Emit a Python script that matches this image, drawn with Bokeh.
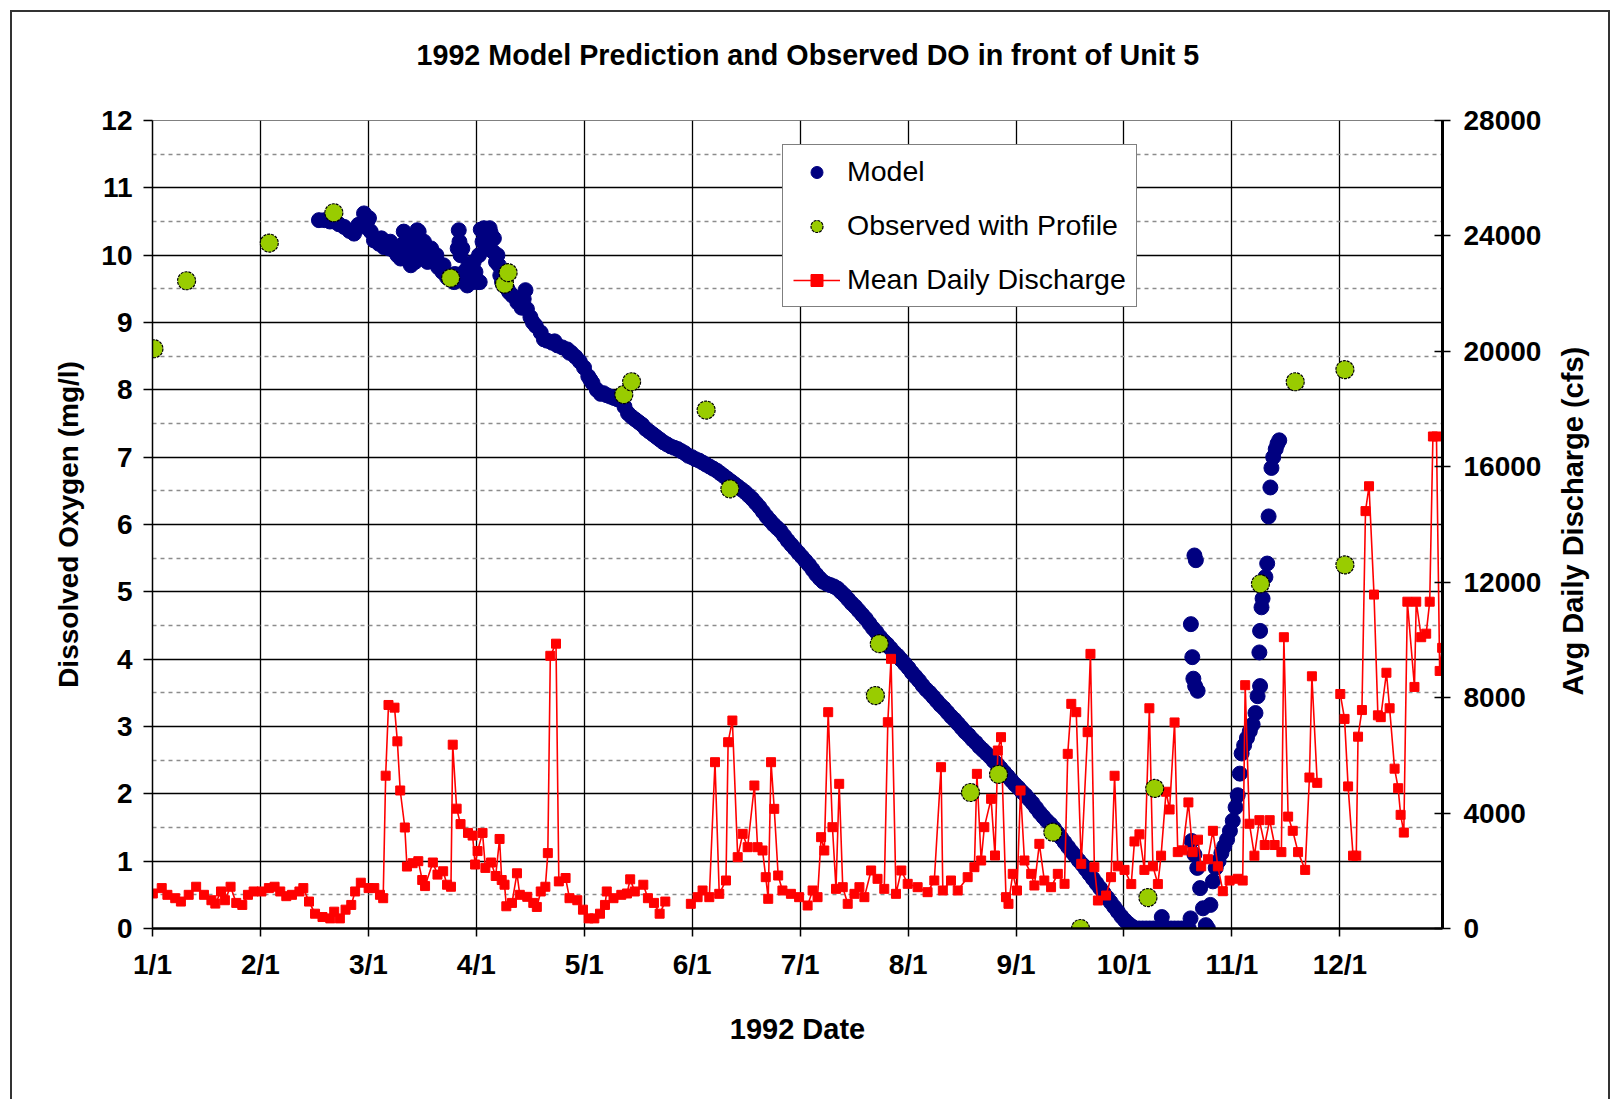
import math
import numpy as np
from bokeh.plotting import figure
from bokeh.models import (Range1d, LinearAxis, FixedTicker, Legend, LegendItem, Title)
from bokeh.embed import file_html
from bokeh.resources import INLINE

FONT = "Liberation Sans"
NAN = float("nan")

# ---------------- data (x = day of 1992 counted from 1/1) ----------------
month_labels = ["1/1", "2/1", "3/1", "4/1", "5/1", "6/1", "7/1", "8/1", "9/1", "10/1", "11/1", "12/1"]
do_ticks = list(range(0, 13))
cfs_ticks = list(range(0, 28001, 4000))

# model: Feb - May (noisy band)
model_day_spring = [
    46.9, 48.5, 50.0, 51.1, 52.5, 54.0, 55.5, 56.8, 58.0, 59.6, 60.5, 61.5, 62.4, 63.8, 65.2, 66.6,
    68.0, 69.0, 69.9, 70.8, 71.3, 71.8, 72.8, 73.7, 74.6, 75.5, 76.2, 77.0, 78.2, 79.3, 80.5, 81.7,
    83.0, 84.0, 85.2, 86.0, 86.3, 86.8, 87.8, 88.7, 89.6, 90.5, 91.5, 92.0, 92.5, 93.4, 94.5, 95.3,
    96.2, 97.2, 98.0, 99.0, 100.0, 101.4, 102.8, 104.0, 105.1, 105.5, 106.5, 108.0, 109.4, 111.2,
    112.6, 114.1, 115.5, 116.9, 118.0, 119.2, 120.4, 121.6, 122.8, 124.0, 125.2, 126.3, 128.0, 130.0,
    132.0, 134.0, 136.0, 138.0, 140.0, 142.0, 144.0, 146.0, 148.0, 150.0,
    60.0, 61.0, 64.5, 67.0, 70.3, 71.0, 72.2, 73.0, 74.0, 75.0, 76.5, 77.5, 78.5, 80.0, 82.0, 85.0,
    86.5, 87.3, 88.0, 89.0, 90.0, 91.0, 92.2, 93.0, 94.0, 95.0, 96.0, 96.8, 97.6, 98.5, 99.5, 100.5,
    103.4, 104.6, 107.2, 110.3, 113.3, 117.5, 123.4, 127.1, 129.0, 131.0, 133.0, 135.0, 137.0,
    139.0, 141.0, 143.0, 145.0, 147.0, 149.0,
]
model_do_spring = [
    10.52, 10.52, 10.50, 10.50, 10.46, 10.42, 10.36, 10.32, 10.45, 10.62, 10.50, 10.35, 10.22, 10.17, 10.12, 10.10,
    10.07, 10.00, 9.95, 10.35, 10.20, 10.05, 9.85, 10.10, 10.37, 10.20, 10.00, 10.05, 9.95, 9.90, 9.82, 9.75,
    9.67, 9.65, 9.72, 10.10, 10.37, 10.00, 9.75, 9.55, 9.70, 9.90, 9.60, 10.00, 10.38, 10.40, 10.35, 10.33,
    10.25, 10.00, 9.70, 9.55, 9.50, 9.40, 9.30, 9.22, 9.48, 9.20, 9.08, 8.95, 8.85, 8.73,
    8.70, 8.66, 8.63, 8.60, 8.55, 8.49, 8.42, 8.33, 8.20, 8.10, 8.00, 7.94, 7.92, 7.88,
    7.84, 7.65, 7.56, 7.48, 7.38, 7.30, 7.22, 7.16, 7.12, 7.06,
    10.42, 10.55, 10.25, 10.20, 10.15, 9.95, 10.25, 10.20, 9.90, 10.35, 10.20, 9.90, 10.10, 10.00, 9.85, 9.60,
    10.20, 10.10, 9.60, 9.85, 9.60, 9.75, 9.60, 10.20, 10.10, 10.40, 10.05, 9.90, 9.85, 9.60, 9.62, 9.45,
    9.35, 9.35, 9.00, 8.75, 8.72, 8.55, 8.15, 7.95, 7.90, 7.86, 7.75, 7.60, 7.52,
    7.42, 7.34, 7.26, 7.19, 7.14, 7.09,
]
# model: June - October decline
model_day_summer = list(range(151, 293))
model_do_summer = [
    7.02, 7.00, 6.97, 6.95, 6.92, 6.89, 6.86, 6.83, 6.80, 6.76, 6.72, 6.68, 6.64, 6.60, 6.56, 6.52,
    6.48, 6.43, 6.38, 6.32, 6.26, 6.19, 6.12, 6.06, 6.00, 5.95, 5.90, 5.83, 5.76, 5.70, 5.64, 5.58,
    5.52, 5.46, 5.40, 5.33, 5.26, 5.20, 5.15, 5.12, 5.10, 5.08, 5.05, 5.00, 4.95, 4.89, 4.83, 4.78,
    4.72, 4.66, 4.60, 4.53, 4.46, 4.40, 4.33, 4.27, 4.22, 4.16, 4.10, 4.05, 3.99, 3.93, 3.87, 3.80,
    3.74, 3.68, 3.61, 3.55, 3.50, 3.44, 3.38, 3.32, 3.27, 3.21, 3.15, 3.10, 3.04, 2.98, 2.92, 2.87,
    2.81, 2.76, 2.70, 2.65, 2.60, 2.55, 2.49, 2.44, 2.38, 2.32, 2.26, 2.20, 2.14, 2.09, 2.03, 1.98,
    1.92, 1.86, 1.79, 1.72, 1.66, 1.60, 1.55, 1.49, 1.42, 1.35, 1.28, 1.21, 1.14, 1.08, 1.01, 0.95,
    0.88, 0.81, 0.74, 0.67, 0.60, 0.53, 0.46, 0.39, 0.32, 0.25, 0.18, 0.12, 0.07, 0.03, 0.00, 0.00,
    0.00, 0.00, 0.00, 0.00, 0.00, 0.00, 0.00, 0.00, 0.00, 0.00, 0.00, 0.00, 0.00, 0.00,
]
# model: late October / November (isolated points, dip and recovery)
model_day_fall = [
    284.4, 292.5, 292.6, 293.0, 293.3, 293.8, 294.5, 293.6, 294.0,
    292.8, 293.6, 294.4, 295.2, 296.0, 296.8, 297.4, 298.1, 298.8, 299.6, 300.4, 301.2, 302.0, 302.8,
    303.6, 304.4, 305.2, 305.8, 306.4, 306.9, 307.6, 308.4, 309.2, 310.0, 310.8, 311.4, 312.1,
    311.9, 312.1, 312.5, 312.8, 313.6, 314.1, 314.5, 315.0, 315.3, 315.8, 316.5, 317.0, 317.5,
]
model_do_fall = [
    0.17, 0.15, 4.52, 4.03, 3.71, 3.60, 3.53, 5.54, 5.47,
    1.30, 1.10, 0.90, 0.60, 0.30, 0.05, 0.0, 0.35, 0.70, 0.90, 1.00, 1.12, 1.22, 1.32,
    1.45, 1.60, 1.80, 1.98, 2.30, 2.60, 2.72, 2.83, 2.93, 3.03, 3.20, 3.45, 3.60,
    4.10, 4.42, 4.77, 4.90, 5.22, 5.42, 6.12, 6.55, 6.84, 7.00, 7.12, 7.20, 7.25,
]

obs_day = [0.4, 9.6, 32.9, 51.1, 84.0, 99.2, 100.2, 132.8, 135.0, 156.0, 162.7, 203.7, 204.8,
           230.5, 238.4, 253.7, 261.5, 280.5, 282.4, 312.2, 322.0, 336.0, 336.0]
obs_do = [8.61, 9.62, 10.18, 10.63, 9.66, 9.57, 9.74, 7.93, 8.12, 7.70, 6.53, 3.46, 4.23,
          2.02, 2.29, 1.43, 0.0, 0.46, 2.08, 5.12, 8.12, 5.40, 8.30]

q_day = [
    0.1, 2.6, 4.2, 6.4, 8.0, 10.2, 12.3, 14.5, 16.6, 17.7, 19.3, 20.4, 22.0, 23.6, 25.3, 26.9, 28.5,
    30.7, 32.8, 34.4, 36.0, 37.7, 39.3, 41.4, 42.5, 44.1, 45.8, 47.9, 50.1, 51.2, 52.8, 54.4, 56.0,
    57.1, 58.7, 60.9, 62.5, 64.1, 65.0, 65.7, 66.5, 68.2, 69.0, 69.8, 71.1, 71.7, 73.3, 74.9, 76.0,
    76.8, 79.0, 80.3, 81.9, 83.0, 84.1, 84.6, 85.7, 86.8, 88.9, 90.2, 90.9, 91.6, 93.0, 93.8, 95.4,
    96.7, 97.8, 98.4, 99.2, 99.7, 101.3, 102.7, 103.5, 105.6, 107.3, 108.3, 109.4, 110.7, 111.4,
    112.1, 113.7, 114.5, 116.4, 117.5, 119.7, 121.3, 122.9, 124.5, 126.1, 127.5, 128.0, 129.9,
    132.1, 133.7, 134.6, 135.9, 138.3, 139.6, 141.3, 142.9, 144.5,
    NAN,
    151.7, 153.6, 155.0, 156.9, 158.5, 159.7, 161.6, 162.2, 163.4, 164.9, 166.3, 167.7, 169.6,
    170.5, 171.9, 172.8, 173.5, 174.3, 175.2, 176.3, 177.5, 179.9, 182.2, 184.6, 186.0, 187.4,
    188.4, 189.3, 190.4, 191.6, 192.6, 193.5, 194.5, 195.9, 197.8, 199.2, 200.6, 202.5, 204.3,
    206.2, 207.2, 208.1, 209.5, 211.0, 212.8, 215.6, 218.4, 220.3, 222.2, 222.7, 225.0, 226.9,
    229.7, 231.6, 232.3, 233.5, 234.4, 236.3, 237.4, 238.2, 239.1, 240.5, 241.2, 242.4, 243.6,
    244.6, 245.7, 247.6, 248.5, 249.9, 251.3, 253.2, 255.1, 257.0, 257.9, 258.9, 260.3, 261.7,
    263.5, 264.3, 265.4, 266.4, 268.7, 270.1, 271.1, 272.0, 273.9, 275.8, 276.7, 278.1, 279.5,
    280.9, 281.9, 283.3, 284.2, 285.6, 286.6, 288.0, 288.9, 290.3, 291.9, 293.1, 294.6, 295.5,
    297.4, 298.8, 300.2, 301.6, 303.5, 305.8, 307.2, 307.9, 309.1, 310.5, 311.9, 313.4, 314.8,
    316.2, 318.1, 318.8, 320.0, 321.3, 322.8, 324.8, 326.0, 326.7, 328.2,
    NAN,
    334.7, 335.9, 336.9, 338.3, 339.2, 339.7, 340.8, 341.8, 342.8, 344.2, 345.3, 346.1, 347.7,
    348.6, 350.0, 351.0, 351.7, 352.6, 353.6, 355.6, 356.1, 357.5, 358.9, 359.9, 360.8, 361.8,
    362.7, 363.4,
]
q_cfs = [
    1213, 1400, 1167, 1050, 933, 1167, 1447, 1167, 980, 863, 1283, 980, 1447, 887, 817, 1167, 1283,
    1283, 1400, 1447, 1283, 1120, 1167, 1283, 1400, 933, 513, 397, 350, 583, 350, 653, 817,
    1283, 1587, 1400, 1400, 1167, 1050, 5296, 7746, 7653, 6486, 4783, 3500, 2147, 2263, 2333, 1680,
    1470, 2287, 1867, 1983, 1517, 1447, 6370, 4153, 3617, 3313, 3220, 2217, 2683, 3313, 2100, 2287,
    1820, 3103, 1680, 1517, 770, 887, 1913, 1167, 1097, 887, 747, 1283, 1447, 2613,
    9450, 9870, 1633, 1750, 1050, 980, 653, 350, 350, 513, 817, 1283, 1050,
    1167, 1213, 1703, 1283, 1517, 1050, 887, 513, 933,
    NAN,
    855, 1086, 1317, 1086, 5763, 1201, 1663, 6456, 7207, 2472, 3280, 2818, 4955,
    2818, 2703, 1779, 1028, 5763, 4146, 1836, 1317, 1201, 1086, 797, 1317, 1086,
    3165, 2703, 7496, 3511, 1374, 5013, 1432, 855, 1201, 1432, 1086, 2010, 1721,
    1374, 7149, 9344, 1201, 2010, 1548, 1432, 1259, 1663, 5590, 1317, 1663, 1317,
    1779, 2125, 5359, 2356, 3511, 4493, 2530, 6168, 6630, 1086, 855, 1894, 1317,
    4782, 2356, 1894, 1490, 2934, 1663, 1432, 1894, 1548, 6052, 7785, 7496, 2241,
    6803, 9517, 2125, 970, 1143, 1779, 5293, 2154, 2031, 1539, 3016, 3262, 2031,
    7632, 2154, 1539, 2524, 4739, 4124, 7140, 2647, 2708, 4370, 2647, 3078, 2154,
    2400, 3385, 2154, 1293, 1662, 1723, 1662, 8432, 3631, 2524, 3754, 2893, 3754,
    2893, 2647, 10094, 3877, 3385, 2647, 2031, 5232, 8740, 5047,
    NAN,
    8125, 7263, 4924, 2524, 2524, 6647, 7570, 14464, 15326, 11571, 7386, 7324, 8863,
    7632, 5539, 4862, 3939, 3324, 11325, 8371, 11325, 10094, 10217, 11325, 17050, 17050,
    8925, 9725,
]

model_day = model_day_spring + model_day_summer + model_day_fall
model_do = model_do_spring + model_do_summer + model_do_fall

# ---------------- figure ----------------
month_pos = [i * 365.0 / 12.0 for i in range(12)]
RIGHT_TITLE = "Avg Daily Discharge (cfs)"
RIGHT_TITLE_START = 8075   # where the bottom-to-top right-axis title begins (cfs scale)

p = figure(width=1600, height=1089, output_backend="svg", toolbar_location=None,
           x_range=Range1d(0, 363.5), y_range=Range1d(0, 12),
           min_border_left=140, min_border_right=170, min_border_top=108, min_border_bottom=173,
           background_fill_color="white", border_fill_color="white")
p.margin = (10, 0, 0, 10)
p.extra_y_ranges = {"cfs": Range1d(0, 28000)}
p.outline_line_color = "#808080"
p.outline_line_width = 1
p.styles = {"border-left": "2px solid #333333", "border-top": "2px solid #333333",
            "border-right": "2px solid #333333"}

# spacer (closest to the frame) then the title above it
p.add_layout(Title(text=" ", text_font=FONT, text_font_size="29px", standoff=11), "above")
p.add_layout(Title(text="1992 Model Prediction and Observed DO in front of Unit 5", align="left",
                   text_font=FONT, text_font_size="28.7px", text_font_style="bold",
                   text_color="black", offset=264, standoff=10), "above")

# x axis
xa = p.xaxis[0]
xa.ticker = FixedTicker(ticks=month_pos)
xa.major_label_overrides = {pos: lab for pos, lab in zip(month_pos, month_labels)}
xa.axis_label = "1992 Date"

# left axis
ya = p.yaxis[0]
ya.ticker = FixedTicker(ticks=do_ticks, minor_ticks=[t + 0.5 for t in do_ticks[:-1]])
ya.axis_label = "Dissolved Oxygen (mg/l)"

# right axis (ticks and tick labels)
ra = LinearAxis(y_range_name="cfs", ticker=FixedTicker(ticks=cfs_ticks))
p.add_layout(ra, "right")

for ax in (xa, ya, ra):
    ax.major_label_text_font = FONT
    ax.major_label_text_font_size = "28px"
    ax.major_label_text_font_style = "bold"
    ax.major_label_text_color = "black"
    ax.axis_label_text_font = FONT
    ax.axis_label_text_font_style = "bold"
    ax.axis_label_text_color = "black"
    ax.minor_tick_line_color = None
    ax.major_tick_line_color = "black"
    ax.major_tick_line_width = 1.5
    ax.axis_line_color = "black"

xa.axis_label_text_font_size = "29px"
ya.axis_label_text_font_size = "28px"

xa.axis_line_width = 2.5
xa.major_tick_in = 0
xa.major_tick_out = 8
xa.major_label_standoff = 12
xa.axis_label_standoff = 30

ya.axis_line_width = 1.5
ya.major_tick_in = 0
ya.major_tick_out = 9
ya.major_label_standoff = 11
ya.axis_label_standoff = 14

ra.axis_line_width = 3
ra.major_tick_in = 8
ra.major_tick_out = 8
ra.major_label_standoff = 13

# right axis title: a bare outer axis whose single rotated tick label reads bottom-to-top
ra_title = LinearAxis(y_range_name="cfs", ticker=FixedTicker(ticks=[RIGHT_TITLE_START]),
                      major_label_overrides={RIGHT_TITLE_START: RIGHT_TITLE},
                      major_label_orientation=math.pi / 2,
                      axis_line_color=None, major_tick_line_color=None, minor_tick_line_color=None,
                      major_tick_in=0, major_tick_out=0, major_label_standoff=29,
                      major_label_text_font=FONT, major_label_text_font_size="29px",
                      major_label_text_font_style="bold", major_label_text_color="black")
p.add_layout(ra_title, "right")

# grids
p.xgrid.grid_line_color = "black"
p.xgrid.grid_line_width = 1.3
p.ygrid.grid_line_color = "black"
p.ygrid.grid_line_width = 1.3
p.ygrid.minor_grid_line_color = "#8c8c8c"
p.ygrid.minor_grid_line_width = 1.5
p.ygrid.minor_grid_line_dash = "4 4"

# ---------------- glyphs ----------------
r_model = p.scatter(model_day, model_do, marker="circle", size=15,
                    fill_color="#000080", line_color="#000080")
q_day_a = np.array(q_day, dtype=float)
q_cfs_a = np.array(q_cfs, dtype=float)
r_qline = p.line(q_day_a, q_cfs_a, y_range_name="cfs", line_color="red", line_width=1.6)
r_qpts = p.scatter(q_day_a, q_cfs_a, y_range_name="cfs", marker="square", size=9,
                   fill_color="red", line_color="red")
r_obs = p.scatter(obs_day, obs_do, marker="circle", size=18, fill_color="#99CC00",
                  line_color="black", line_width=1.2, line_dash="3 1")

legend = Legend(items=[LegendItem(label="Model", renderers=[r_model]),
                       LegendItem(label="Observed with Profile", renderers=[r_obs]),
                       LegendItem(label="Mean Daily Discharge", renderers=[r_qline, r_qpts])],
                location=(630, 621), orientation="vertical", margin=0,
                border_line_color="black", border_line_width=1.5,
                background_fill_color="white", background_fill_alpha=1.0,
                padding=10, spacing=21, glyph_width=47, glyph_height=30,
                label_height=30, label_standoff=7,
                label_text_font=FONT, label_text_font_size="28.5px", label_text_color="black")
p.add_layout(legend)

open("out.html", "w").write(file_html(p, INLINE))
